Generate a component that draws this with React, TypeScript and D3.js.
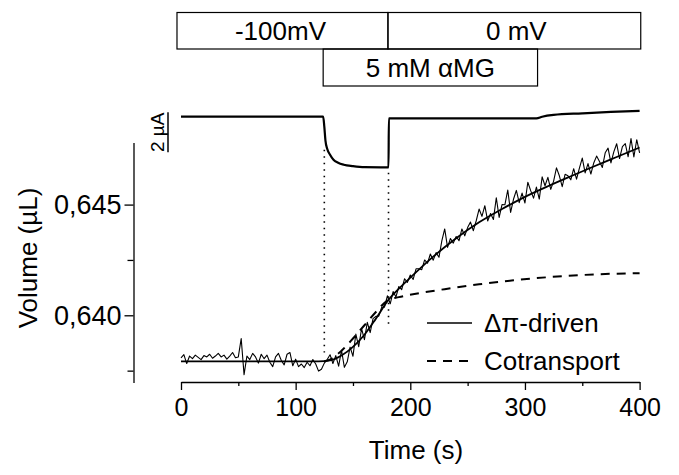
import React, { useEffect, useRef } from 'react';
import * as d3 from 'd3';

// volume samples (µL), one every sampleStep seconds from t = 0
const sampleStep = 2.5;
const volumeRaw = [
    0.63808, 0.63822, 0.63782, 0.63816, 0.63804, 0.63820, 0.63810, 0.63800, 0.63818, 0.63812,
    0.63824, 0.63806, 0.63816, 0.63828, 0.63812, 0.63820, 0.63802, 0.63816, 0.63832, 0.63808,
    0.63812, 0.63895, 0.63732, 0.63816, 0.63800, 0.63828, 0.63812, 0.63784, 0.63824, 0.63804,
    0.63820, 0.63788, 0.63768, 0.63812, 0.63828, 0.63796, 0.63776, 0.63824, 0.63832, 0.63772,
    0.63802, 0.63768, 0.63780, 0.63764, 0.63788, 0.63772, 0.63800, 0.63780, 0.63748, 0.63756,
    0.63784, 0.63800, 0.63822, 0.63782, 0.63818, 0.63770, 0.63842, 0.63765, 0.63790, 0.63856,
    0.63815, 0.63915, 0.63858, 0.63940, 0.63890, 0.63968, 0.63922, 0.63985, 0.63995, 0.63996,
    0.64036, 0.64037, 0.64088, 0.64052, 0.64107, 0.64083, 0.64130, 0.64116, 0.64165, 0.64149,
    0.64182, 0.64162, 0.64210, 0.64210, 0.64206, 0.64250, 0.64235, 0.64277, 0.64249, 0.64283,
    0.64262, 0.64336, 0.64390, 0.64307, 0.64347, 0.64326, 0.64356, 0.64337, 0.64390, 0.64359,
    0.64396, 0.64421, 0.64382, 0.64427, 0.64480, 0.64447, 0.64495, 0.64426, 0.64460, 0.64433,
    0.64531, 0.64442, 0.64500, 0.64499, 0.64566, 0.64465, 0.64524, 0.64564, 0.64509, 0.64552,
    0.64507, 0.64601, 0.64563, 0.64529, 0.64579, 0.64525, 0.64625, 0.64585, 0.64623, 0.64569,
    0.64606, 0.64666, 0.64630, 0.64581, 0.64637, 0.64630, 0.64612, 0.64662, 0.64615, 0.64665,
    0.64710, 0.64643, 0.64685, 0.64638, 0.64688, 0.64719, 0.64695, 0.64668, 0.64734, 0.64755,
    0.64688, 0.64738, 0.64775, 0.64708, 0.64762, 0.64775, 0.64716, 0.64798, 0.64715, 0.64793,
    0.64734
];

// fitted curves
const fitTimes = [0, 120, 130, 140, 150, 160, 170, 181, 190, 200, 220, 240, 260, 280, 300, 320, 340, 360, 380, 400];
const fitValues = [0.63792, 0.63792, 0.63796, 0.63818, 0.63857, 0.63912, 0.63985, 0.64070, 0.64120, 0.64170,
    0.64265, 0.64348, 0.64420, 0.64480, 0.64535, 0.64583, 0.64628, 0.64672, 0.64715, 0.64758];
const cotTimes = [125, 130, 140, 150, 160, 170, 181, 190, 210, 230, 260, 290, 320, 350, 380, 400];
const cotValues = [0.63792, 0.63800, 0.63840, 0.63895, 0.63955, 0.64015, 0.64070, 0.64082, 0.64102, 0.64118,
    0.64140, 0.64158, 0.64172, 0.64182, 0.64188, 0.64190];

// membrane current (µA)
const currentTimes = [0, 124, 125, 126, 127.5, 130, 133, 137, 142, 150, 160, 181, 181.3, 310, 315, 325, 350, 375, 400];
const currentValues = [0, 0, -0.5, -1.2, -1.6, -1.9, -2.15, -2.3, -2.4, -2.47, -2.52, -2.53, -0.08, -0.08, 0.0, 0.09, 0.17, 0.24, 0.29];

const xTicks = [0, 100, 200, 300, 400];
const xMinorTicks = [50, 150, 250, 350];
const yTicks = [0.640, 0.645];
const yMinorTicks = [0.6375, 0.6425];

const voltageLabels = ['-100mV', '0 mV'];
const voltageEdges = [-3.5, 180.5, 401];
const sugarLabel = '5 mM αMG';
const sugarEdges = [124, 311];
const markerTimes = [125, 181];
const markerTops = [-1.65, -2.8];
const markerBottoms = [0.63832, 0.63950];
const legendLabels = ['Δπ-driven', 'Cotransport'];

const font = '"Liberation Sans", Arial, Helvetica, sans-serif';

const App = () => {
    const ref = useRef<SVGSVGElement>(null);

    useEffect(() => {
        const svg = d3.select(ref.current);
        svg.selectAll('*').remove();

        const x = d3.scaleLinear().domain([0, 400]).range([181, 639.6]);
        const y = d3.scaleLinear().domain([0.63696, 0.6478]).range([382.6, 142.6]);
        const yc = d3.scaleLinear().domain([0, -2]).range([116.7, 156.7]);

        // protocol boxes
        const top = svg.append('g').attr('font-family', font).attr('font-size', 26);
        voltageLabels.forEach((lab, i) => {
            const x0 = x(voltageEdges[i]);
            const x1 = x(voltageEdges[i + 1]);
            top.append('rect').attr('x', x0).attr('y', 12.5).attr('width', x1 - x0).attr('height', 36.5)
                .attr('fill', 'none').attr('stroke', '#000').attr('stroke-width', 1.2);
            top.append('text').attr('x', (x0 + x1) / 2 - (i === 0 ? 2 : -2)).attr('y', 39.5)
                .attr('text-anchor', 'middle').text(lab);
        });
        const s0 = x(sugarEdges[0]);
        const s1 = x(sugarEdges[1]);
        top.append('rect').attr('x', s0).attr('y', 49).attr('width', s1 - s0).attr('height', 37)
            .attr('fill', 'none').attr('stroke', '#000').attr('stroke-width', 1.2);
        top.append('text').attr('x', (s0 + s1) / 2).attr('y', 77).attr('text-anchor', 'middle').text(sugarLabel);

        // current trace + scale bar
        const cur = d3.line<number>()
            .x((d, i) => x(currentTimes[i]))
            .y(d => yc(d))
            .curve(d3.curveMonotoneX);
        svg.append('path').attr('d', cur(currentValues)).attr('fill', 'none')
            .attr('stroke', '#000').attr('stroke-width', 2.2);
        svg.append('line').attr('x1', 168).attr('x2', 168).attr('y1', yc(0.22)).attr('y2', yc(-1.78))
            .attr('stroke', '#000').attr('stroke-width', 1.5);
        svg.append('text').attr('transform', `translate(164, ${yc(-0.78)}) rotate(-90)`)
            .attr('text-anchor', 'middle').attr('font-family', font).attr('font-size', 19).text('2 µA');

        // dotted markers
        markerTimes.forEach((t, i) => {
            svg.append('line').attr('x1', x(t)).attr('x2', x(t))
                .attr('y1', yc(markerTops[i])).attr('y2', y(markerBottoms[i]))
                .attr('stroke', '#000').attr('stroke-width', 1.6).attr('stroke-dasharray', '1.5,5');
        });

        // axes
        const xAxis = svg.append('g').attr('transform', 'translate(0, 382)')
            .call(d3.axisBottom(x).tickValues(xTicks).tickSize(8).tickSizeOuter(0).tickPadding(8)
                .tickFormat(d3.format('d')));
        svg.append('g').attr('transform', 'translate(0, 382)')
            .call(d3.axisBottom(x).tickValues(xMinorTicks).tickSize(4).tickSizeOuter(0).tickFormat(() => ''))
            .select('.domain').remove();
        const yAxis = svg.append('g').attr('transform', 'translate(133.5, 0)')
            .call(d3.axisLeft(y).tickValues(yTicks).tickSize(9).tickSizeOuter(0).tickPadding(3)
                .tickFormat(d => d3.format('.3f')(d as number).replace('.', ',')));
        svg.append('g').attr('transform', 'translate(133.5, 0)')
            .call(d3.axisLeft(y).tickValues(yMinorTicks).tickSize(6).tickSizeOuter(0).tickFormat(() => ''))
            .select('.domain').remove();
        [xAxis, yAxis].forEach(a => {
            a.selectAll('text').attr('font-family', font).attr('font-size', 25).attr('fill', '#000');
            a.select('.domain').attr('stroke-width', 1.3);
        });
        yAxis.selectAll('text').attr('font-size', 27).attr('dy', '0.34em');
        svg.selectAll('.tick line').attr('stroke-width', 1.3);

        svg.append('text').attr('x', 416).attr('y', 459).attr('text-anchor', 'middle')
            .attr('font-family', font).attr('font-size', 26).text('Time (s)');
        svg.append('text').attr('transform', 'translate(37, 258) rotate(-90)').attr('text-anchor', 'middle')
            .attr('font-family', font).attr('font-size', 26).text('Volume (µL)');

        // volume data and fits
        const raw = d3.line<number>().x((d, i) => x(i * sampleStep)).y(d => y(d));
        svg.append('path').attr('d', raw(volumeRaw)).attr('fill', 'none')
            .attr('stroke', '#000').attr('stroke-width', 1.1).attr('stroke-linejoin', 'round');
        const fit = d3.line<number>().x((d, i) => x(fitTimes[i])).y(d => y(d)).curve(d3.curveMonotoneX);
        svg.append('path').attr('d', fit(fitValues)).attr('fill', 'none')
            .attr('stroke', '#000').attr('stroke-width', 1.8);
        const cot = d3.line<number>().x((d, i) => x(cotTimes[i])).y(d => y(d)).curve(d3.curveMonotoneX);
        svg.append('path').attr('d', cot(cotValues)).attr('fill', 'none')
            .attr('stroke', '#000').attr('stroke-width', 2).attr('stroke-dasharray', '9,7');

        // legend
        const legend = svg.append('g').attr('font-family', font).attr('font-size', 26);
        legendLabels.forEach((lab, i) => {
            const ly = 323 + i * 38;
            legend.append('line').attr('x1', 427).attr('x2', 472).attr('y1', ly).attr('y2', ly)
                .attr('stroke', '#000').attr('stroke-width', i === 0 ? 1.3 : 2)
                .attr('stroke-dasharray', i === 0 ? null : '9,7');
            legend.append('text').attr('x', 484).attr('y', ly + 9).text(lab);
        });
    }, []);

    return <svg ref={ref} width={679} height={475} style={{ position: 'absolute', left: 0, top: 0, background: '#fff' }} />;
};

export default App;
